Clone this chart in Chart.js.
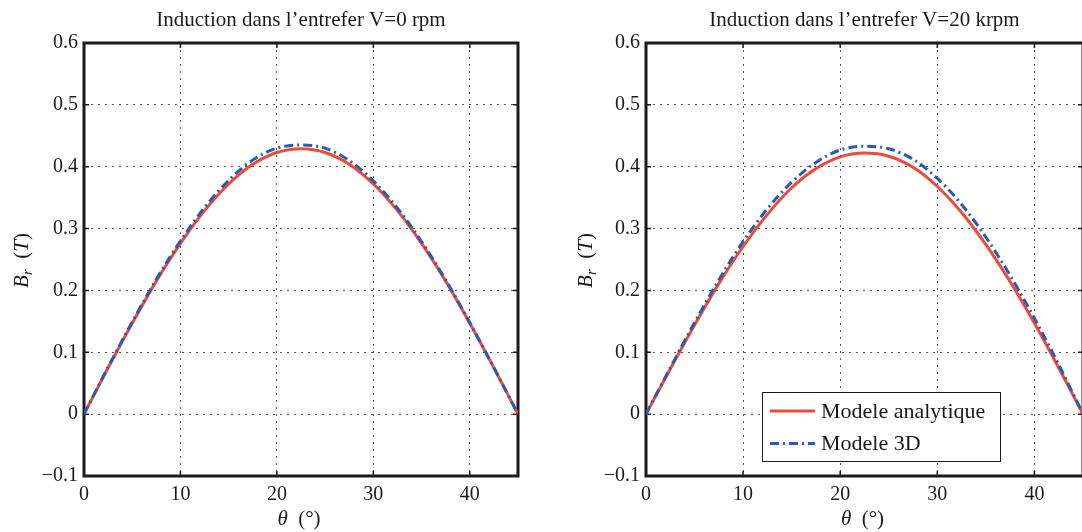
<!DOCTYPE html>
<html>
<head>
<meta charset="utf-8">
<script src="https://cdn.jsdelivr.net/npm/chart.js@4.4.0/dist/chart.umd.min.js"></script>
<style>
    html, body { margin: 0; padding: 0; background: #fff; overflow: hidden; }
    #wrap { position: relative; width: 1082px; height: 532px; overflow: hidden; }
    .pane { position: absolute; top: 0; height: 532px; }
</style>
</head>
<body>
<div id="wrap">
    <div class="pane" style="left:0;width:541px"><canvas id="chartV0" width="541" height="532"></canvas></div>
    <div class="pane" style="left:541px;width:545px"><canvas id="chartV20" width="545" height="532"></canvas></div>
</div>
<script>
// angle along the air gap (degrees)
const theta = [0, 2.5, 5, 7.5, 10, 12.5, 15, 17.5, 20, 22.5, 25, 27.5, 30, 32.5, 35, 37.5, 40, 42.5, 45];

// V = 0 rpm
const analytic0 = [0, 0.075, 0.147, 0.215, 0.276, 0.329, 0.372, 0.404, 0.423, 0.429, 0.423, 0.404, 0.372, 0.329, 0.276, 0.215, 0.147, 0.075, 0];
const model3d0 = [0, 0.076, 0.149, 0.218, 0.280, 0.334, 0.378, 0.411, 0.430, 0.435, 0.430, 0.410, 0.377, 0.333, 0.279, 0.217, 0.148, 0.075, 0];

// V = 20 krpm
const analytic20 = [0, 0.073, 0.144, 0.211, 0.271, 0.323, 0.366, 0.397, 0.416, 0.422, 0.417, 0.399, 0.368, 0.326, 0.274, 0.214, 0.147, 0.075, 0];
const model3d20 = [0, 0.075, 0.148, 0.217, 0.279, 0.332, 0.375, 0.407, 0.427, 0.433, 0.429, 0.412, 0.381, 0.339, 0.286, 0.224, 0.155, 0.080, 0];

const xTicks = [0, 10, 20, 30, 40];
const yTicks = [-0.1, 0, 0.1, 0.2, 0.3, 0.4, 0.5, 0.6];
const titles = ['Induction dans l\u2019entrefer V=0 rpm', 'Induction dans l\u2019entrefer V=20 krpm'];
const seriesNames = ['Modele analytique', 'Modele 3D'];

const FONT = '"Liberation Serif", "DejaVu Serif", serif';
const INK = '#1a1a1a';

function drawRuns(ctx, runs, cx, cy) {
    let total = 0;
    runs.forEach((r) => {
        ctx.font = r.font;
        r.w = ctx.measureText(r.text).width;
        total += r.w;
    });
    let x = cx - total / 2;
    runs.forEach((r) => {
        ctx.font = r.font;
        ctx.fillText(r.text, x, cy + (r.dy || 0));
        x += r.w;
    });
}

// thick box + inward tick marks, like the matlab axes
const framePlugin = {
    id: 'frame',
    beforeDatasetsDraw(chart) {
        const { ctx, chartArea: a, scales } = chart;
        ctx.save();
        ctx.strokeStyle = INK;
        ctx.lineWidth = 1.5;
        ctx.beginPath();
        xTicks.forEach((v) => {
            const px = scales.x.getPixelForValue(v);
            ctx.moveTo(px, a.top);
            ctx.lineTo(px, a.top + 5);
            ctx.moveTo(px, a.bottom);
            ctx.lineTo(px, a.bottom - 5);
        });
        yTicks.forEach((v) => {
            const py = scales.y.getPixelForValue(v);
            ctx.moveTo(a.left, py);
            ctx.lineTo(a.left + 5, py);
            ctx.moveTo(a.right, py);
            ctx.lineTo(a.right - 5, py);
        });
        ctx.stroke();
        ctx.lineWidth = 3;
        ctx.strokeRect(a.left, a.top, a.right - a.left, a.bottom - a.top);
        ctx.restore();
    },
};

const axisLabelPlugin = {
    id: 'axisLabels',
    afterDraw(chart, args, opts) {
        const { ctx, chartArea: a } = chart;
        ctx.save();
        ctx.fillStyle = INK;
        ctx.textBaseline = 'alphabetic';
        drawRuns(ctx, [
            { text: '\u03b8', font: 'italic 21px ' + FONT },
            { text: '  (\u00b0)', font: '21px ' + FONT },
        ], (a.left + a.right) / 2 - 2, opts.xBase);

        ctx.translate(opts.yBase, (a.top + a.bottom) / 2 + 1);
        ctx.rotate(-Math.PI / 2);
        drawRuns(ctx, [
            { text: 'B', font: 'italic 21px ' + FONT },
            { text: 'r', font: 'italic 15px ' + FONT, dy: 4 },
            { text: '  (', font: '21px ' + FONT },
            { text: 'T', font: 'italic 21px ' + FONT },
            { text: ')', font: '21px ' + FONT },
        ], 0, 0);
        ctx.restore();
    },
};

const boxLegendPlugin = {
    id: 'boxLegend',
    afterDraw(chart, args, opts) {
        if (!opts.display) {
            return;
        }
        const ctx = chart.ctx;
        const { x, y, w, h } = opts.box;
        ctx.save();
        ctx.fillStyle = '#fff';
        ctx.fillRect(x, y, w, h);
        ctx.strokeStyle = INK;
        ctx.lineWidth = 1;
        ctx.strokeRect(x + 0.5, y + 0.5, w, h);
        chart.data.datasets.forEach((ds, i) => {
            const cy = y + opts.rowTop + i * opts.rowGap;
            ctx.strokeStyle = ds.borderColor;
            ctx.lineWidth = ds.borderWidth;
            ctx.setLineDash(ds.borderDash || []);
            ctx.beginPath();
            ctx.moveTo(x + 8, cy);
            ctx.lineTo(x + 53, cy);
            ctx.stroke();
            ctx.setLineDash([]);
            ctx.fillStyle = INK;
            ctx.font = '22px ' + FONT;
            ctx.textBaseline = 'middle';
            ctx.fillText(ds.label, x + 59, cy + 1);
        });
        ctx.restore();
    },
};

const makeChart = (elementId, title, analytic, model3d, extra) => {
    const element = document.getElementById(elementId);
    if (!element) {
        return;
    }
    const points = (values) => theta.map((t, i) => ({ x: t, y: values[i] }));

    new Chart(element.getContext('2d'), {
        type: 'line',
        data: {
            datasets: [
                {
                    label: seriesNames[0],
                    data: points(analytic),
                    borderColor: '#ee4a3b',
                    borderWidth: 3,
                    pointRadius: 0,
                    cubicInterpolationMode: 'monotone',
                    fill: false,
                    order: 1,
                },
                {
                    label: seriesNames[1],
                    data: points(model3d),
                    borderColor: '#2a5caa',
                    borderWidth: 3,
                    borderDash: [9, 4, 2, 4],
                    pointRadius: 0,
                    cubicInterpolationMode: 'monotone',
                    fill: false,
                    order: 0,
                },
            ],
        },
        options: {
            responsive: false,
            devicePixelRatio: 1,
            animation: false,
            layout: {
                padding: { left: extra.padLeft, right: extra.padRight, top: 0, bottom: 0 },
            },
            plugins: {
                legend: { display: false },
                tooltip: { enabled: false },
                title: {
                    display: true,
                    text: title,
                    fullSize: false,
                    color: INK,
                    font: { family: FONT, size: 21, weight: 'normal', lineHeight: 1.2 },
                    padding: { top: 8, bottom: 9.8 },
                },
                axisLabels: { xBase: 525, yBase: extra.yBase },
                boxLegend: {
                    display: extra.legend,
                    box: { x: 221, y: 392, w: 238, h: 69 },
                    rowTop: 19,
                    rowGap: 32.5,
                },
            },
            scales: {
                x: {
                    type: 'linear',
                    min: 0,
                    max: 45,
                    afterBuildTicks: (scale) => {
                        scale.ticks = xTicks.map((v) => ({ value: v }));
                    },
                    afterFit: (scale) => {
                        scale.height = 56;
                    },
                    ticks: {
                        color: INK,
                        padding: 7,
                        maxRotation: 0,
                        font: { family: FONT, size: 20 },
                        callback: (v) => String(v),
                    },
                    grid: {
                        color: '#555',
                        lineWidth: 1,
                        drawTicks: false,
                    },
                    border: { display: false, dash: [2, 5] },
                },
                y: {
                    min: -0.1,
                    max: 0.6,
                    afterBuildTicks: (scale) => {
                        scale.ticks = yTicks.map((v) => ({ value: v }));
                    },
                    afterFit: (scale) => {
                        scale.width = 84;
                    },
                    ticks: {
                        color: INK,
                        padding: 6,
                        font: { family: FONT, size: 20 },
                        callback: (v) => (v === 0 ? '0' : (v < 0 ? '\u2212' : '') + Math.abs(v).toFixed(1)),
                    },
                    grid: {
                        color: '#555',
                        lineWidth: 1,
                        drawTicks: false,
                    },
                    border: { display: false, dash: [2, 5] },
                },
            },
        },
        plugins: [framePlugin, axisLabelPlugin, boxLegendPlugin],
    });
};

makeChart('chartV0', titles[0], analytic0, model3d0, { padLeft: 0, padRight: 23, yBase: 28, legend: false });
makeChart('chartV20', titles[1], analytic20, model3d20, { padLeft: 21, padRight: 3, yBase: 51, legend: true });
</script>
</body>
</html>
